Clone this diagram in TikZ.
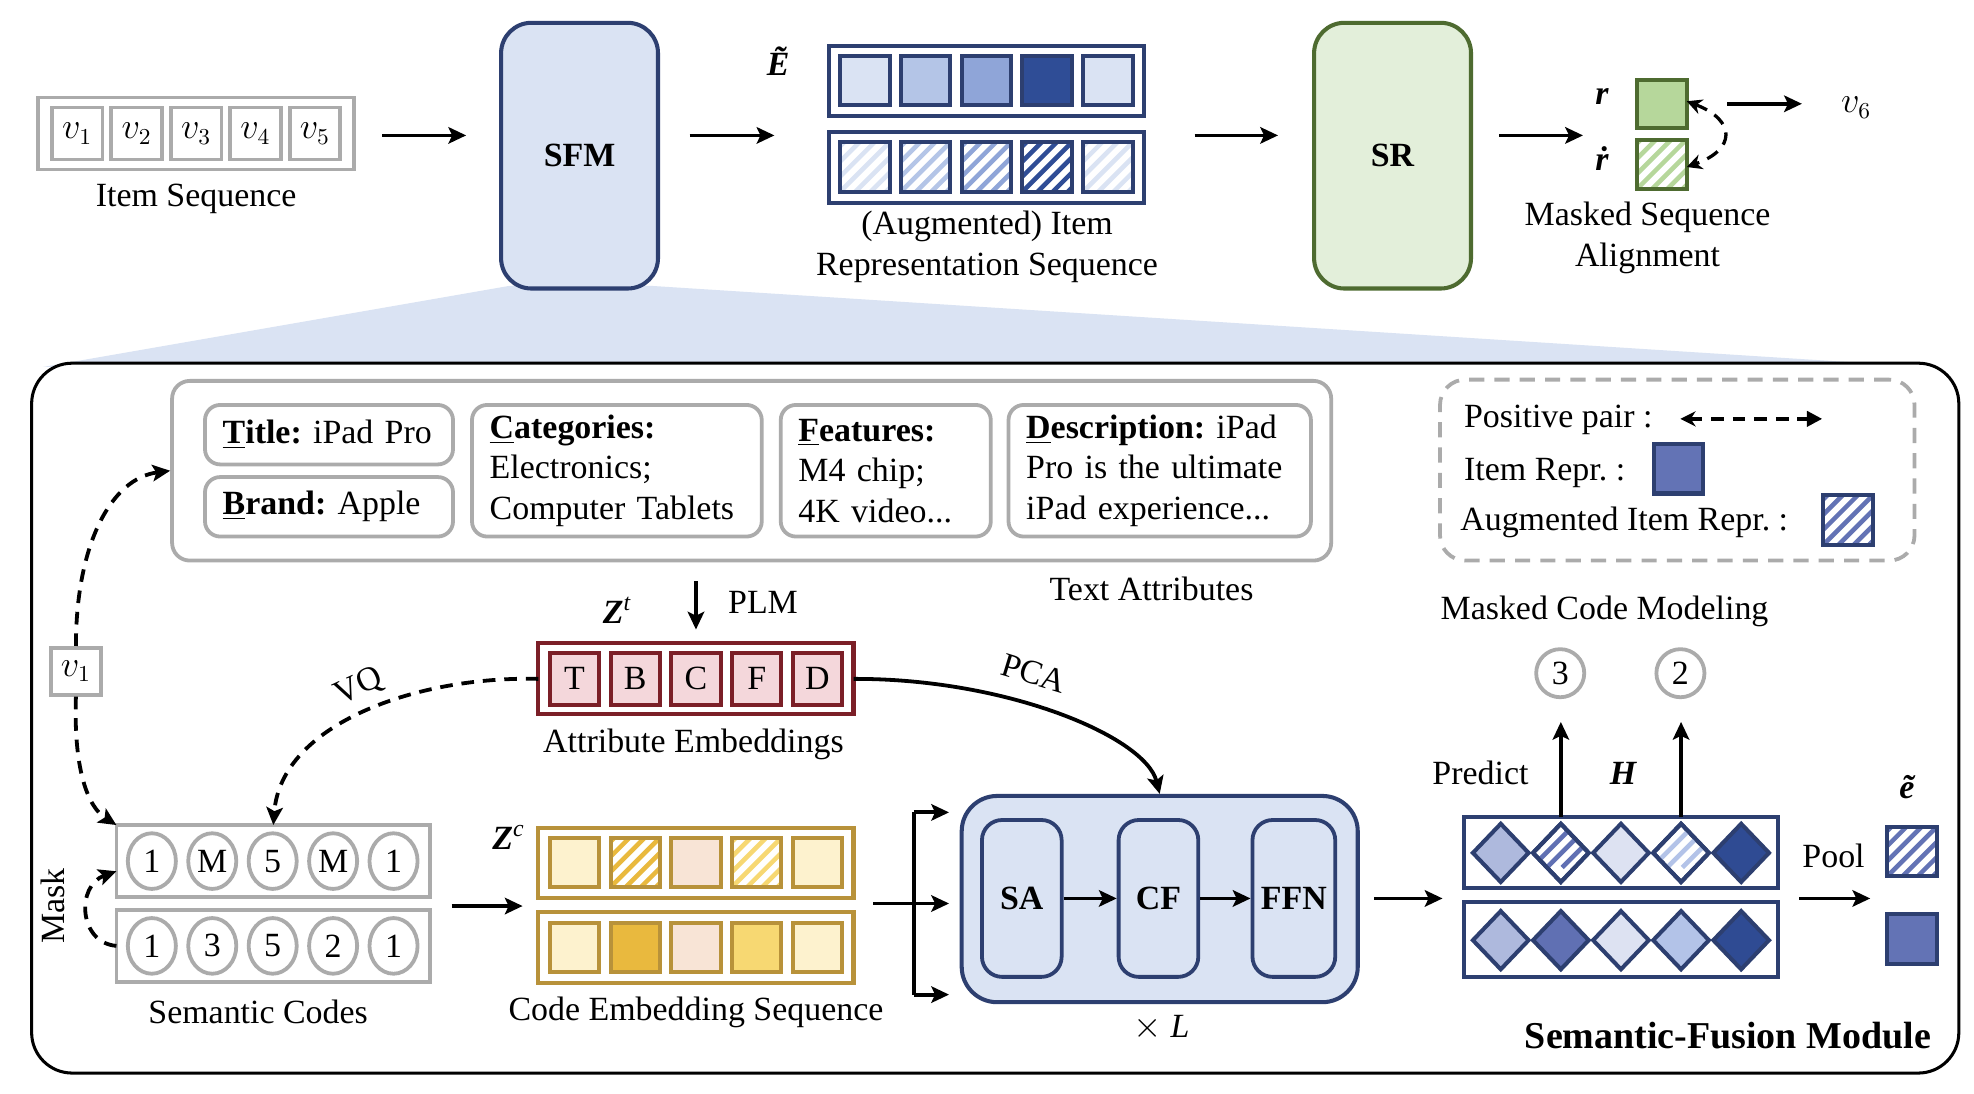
\documentclass[tikz,border=0pt]{standalone}
\usepackage{fontspec}
\setmainfont{Liberation Serif}
\usetikzlibrary{arrows.meta,shapes.geometric,calc}
\definecolor{navy}{HTML}{2D3F70}
\definecolor{lblue}{HTML}{DAE3F3}
\definecolor{grayc}{HTML}{ABABAB}
\definecolor{eA}{HTML}{DAE3F3}
\definecolor{eB}{HTML}{B4C5E7}
\definecolor{eC}{HTML}{8FA5D8}
\definecolor{eD}{HTML}{2F4D96}
\definecolor{aered}{HTML}{7B1F27}
\definecolor{aefill}{HTML}{F4D7DB}
\definecolor{gold}{HTML}{B8923A}
\definecolor{cA}{HTML}{FDF2CE}
\definecolor{cB}{HTML}{E9B93E}
\definecolor{cC}{HTML}{F8E4D6}
\definecolor{cD}{HTML}{F7D872}
\definecolor{srfill}{HTML}{E3EFDA}
\definecolor{srdraw}{HTML}{4E6B30}
\definecolor{rfill}{HTML}{B6D79B}
\definecolor{hA}{HTML}{AEB9DD}
\definecolor{hB}{HTML}{6070B3}
\definecolor{hC}{HTML}{DDE2F2}
\definecolor{hD}{HTML}{B3C3E8}
\definecolor{hE}{HTML}{2F4B93}
\definecolor{irep}{HTML}{6373B5}

\newcommand\hatchrect[3]{%
  \begin{scope}
    \clip (#1.south west) rectangle (#1.north east);
    \foreach \k in {-30,-24,...,30}{\draw[#2, line width=1.8pt] ([xshift=\k pt]#1.south west) -- ++(40pt,40pt);}
  \end{scope}
  \draw[#3, line width=1.6pt] (#1.south west) rectangle (#1.north east);
}
\newcommand\hatchdiam[3]{%
  \begin{scope}
    \clip (#1.north) -- (#1.east) -- (#1.south) -- (#1.west) -- cycle;
    \foreach \k in {-30,-24,...,30}{\draw[#2, line width=1.8pt] ([xshift=\k pt]#1.south west) -- ++(40pt,40pt);}
  \end{scope}
  \draw[#3, line width=1.6pt] (#1.north) -- (#1.east) -- (#1.south) -- (#1.west) -- cycle;
}

\begin{document}
\frenchspacing
\begin{tikzpicture}[x=0.5pt,y=-0.5pt,
  font=\fontsize{13.4}{16}\selectfont,
  arr/.style={line width=1.5pt, -{Stealth[length=7pt,width=6.5pt,inset=1.5pt]}},
  dsh/.style={line width=1.3pt, dash pattern=on 5pt off 3.5pt},
  seq/.style={minimum width=124.5pt, minimum height=28pt, inner sep=0, outer sep=0, line width=1.6pt, fill=white},
  cell/.style={minimum width=19.5pt, minimum height=19.5pt, inner sep=0, outer sep=0, line width=1.6pt},
  dia/.style={diamond, minimum width=22pt, minimum height=23pt, inner sep=0, outer sep=0, line width=1.6pt, draw=navy},
  code/.style={ellipse, draw=grayc, line width=1.5pt, minimum width=19pt, minimum height=22pt, inner sep=0},
  attr/.style={draw=grayc, line width=1.5pt, rounded corners=6pt, align=left, inner xsep=7pt, inner ysep=0pt, minimum height=52pt},
  big/.style={rounded corners=12pt, line width=1.6pt, minimum width=62pt, minimum height=105pt},
  sub/.style={draw=navy, fill=lblue, rounded corners=8pt, line width=1.5pt, minimum width=31.5pt, minimum height=62pt, font=\fontsize{13.4}{16}\selectfont\bfseries}
]
\useasboundingbox (0,0) rectangle (1560,864.5);
\fill[white] (0,0) rectangle (1560,864.5);

% ---------- top row ----------
\fill[lblue] (402,226) -- (516,226) -- (1522,290) -- (34,290) -- cycle;

\node[draw=grayc, line width=1.5pt, minimum width=125pt, minimum height=28.5pt, inner sep=0, outer sep=0] (iseq) at (155,105.5) {};
\foreach \n in {1,...,5}
  \node[draw=grayc, line width=1.5pt, minimum width=20pt, minimum height=20.5pt, inner sep=0] (iv\n) at ({61+47*(\n-1)},105.5) {$v_{\n}$};
\node (iseqlab) at (155,157) {Item Sequence};

\node[big, draw=navy, fill=lblue, font=\fontsize{13.4}{16}\selectfont\bfseries] (sfm) at (458,123) {SFM};
\draw[arr, shorten <=11pt, shorten >=13pt] ([yshift=-0.75pt]iseq.east) -- ([yshift=-0.75pt]iseq.east -| sfm.west);

\node[font=\fontsize{13.4}{16}\selectfont\bfseries\itshape] (Et) at (615,48) {\~{E}};
\node[seq, draw=navy] (etop) at (779.5,64) {};
\foreach \c [count=\i from 0] in {eA,eB,eC,eD,eA}
  \node[cell, draw=navy, fill=\c] (et\i) at ({683.5+48*\i},63.5) {};
\node[seq, draw=navy] (ebot) at (779.5,132.5) {};
\foreach \c [count=\i from 0] in {eA,eB,eC,eD,eA}{
  \node[cell, draw=navy, fill=white] (eb\i) at ({683.5+48*\i},132) {};
  \hatchrect{eb\i}{\c}{navy}}
\node[align=center] (elab) at (780,195) {(Augmented) Item\\Representation Sequence};

\coordinate (a2s) at (545,107); \coordinate (a2e) at (612,107);
\draw[arr] (a2s) -- (a2e);

\node[big, draw=srdraw, fill=srfill, font=\fontsize{13.4}{16}\selectfont\bfseries] (sr) at (1100.5,123) {SR};
\coordinate (a3s) at (944,107); \coordinate (a3e) at (1010,107);
\draw[arr] (a3s) -- (a3e);
\coordinate (a4s) at (1185,107); \coordinate (a4e) at (1251,107);
\draw[arr] (a4s) -- (a4e);

\node[font=\fontsize{13.4}{16}\selectfont\bfseries\itshape] (rl) at (1266,76) {r};
\node[font=\fontsize{13.4}{16}\selectfont\bfseries\itshape] (rdl) at (1266,125) {\.{r}};
\node[cell, draw=srdraw, fill=rfill, minimum height=19pt] (rbox) at (1313.5,82) {};
\node[cell, draw=srdraw, fill=white, minimum height=19pt] (rdbox) at (1313.5,130) {};
\hatchrect{rdbox}{rfill}{srdraw}
\draw[dsh, {Stealth[length=6pt,width=6pt]}-{Stealth[length=6pt,width=6pt]}] ([yshift=1pt]rbox.east) .. controls (1372,95) and (1372,118) .. ([yshift=-1pt]rdbox.east);
\node (v6) at (1467,85) {$v_6$};
\draw[arr, shorten <=16pt, shorten >=12pt] (rbox.east) -- (rbox.east -| v6.west);
\node[align=center] (msa) at (1302,188) {Masked Sequence\\Alignment};

% ---------- bottom module ----------
\node[draw=black, line width=1.2pt, rounded corners=16pt, fill=white, minimum width=761.5pt, minimum height=280.5pt] (sfmod) at (786.5,567.5) {};

\node[draw=grayc, line width=1.5pt, rounded corners=7pt, minimum width=458pt, minimum height=71pt] (ta) at (594,372) {};
\node[attr, minimum width=98pt, minimum height=23.5pt, text width=84pt] (title) at (260,343.5) {\textbf{\underline{T}itle:} iPad Pro};
\node[attr, minimum width=98pt, minimum height=23.5pt, text width=84pt] (brand) at (260,400.5) {\textbf{\underline{B}rand:} Apple};
\node[attr, text width=100.5pt] (cat) at (487.5,372) {\textbf{\underline{C}ategories:}\\Electronics;\\Computer Tablets};
\node[attr, text width=69pt] (feat) at (700,372) {\textbf{\underline{F}eatures:}\\M4 chip;\\4K video...};
\node[attr, text width=105.5pt] (desc) at (916.5,372) {\textbf{\underline{D}escription:} iPad\\Pro is the ultimate\\iPad experience...};
\node (talab) at (910,465) {Text Attributes};

% legend
\node[draw=grayc, dash pattern=on 6pt off 4pt, line width=1.5pt, rounded corners=10pt, minimum width=187.5pt, minimum height=71.5pt] (legend) at (1325.5,371.5) {};
\node[anchor=west] (lpp) at (1150,332) {Positive pair :};
\coordinate (pp1) at (1328,331); \coordinate (pp2) at (1440,331);
\draw[dsh, {Stealth[length=6pt,width=6pt]}-{Triangle[length=6pt,width=6pt]}] (pp1) -- (pp2);
\node[anchor=west] (lir) at (1150,374) {Item Repr. :};
\node[cell, draw=navy, fill=irep] (lirbox) at (1326.5,370.5) {};
\node[anchor=west] (lair) at (1147,413) {Augmented Item Repr. :};
\node[cell, draw=navy, fill=white] (lairbox) at (1460.5,411) {};
\hatchrect{lairbox}{irep}{navy}

% attribute embeddings
\node[seq, draw=aered] (ae) at (550,536.5) {};
\foreach \t [count=\i from 0] in {T,B,C,F,D}
  \node[cell, draw=aered, fill=aefill, minimum height=20.5pt] (ae\i) at ({454+48*\i},536.5) {\t};
\node (aelab) at (548,588) {Attribute Embeddings};
\draw[arr, shorten <=7.5pt, shorten >=5.5pt] (ae.north |- ta.south) -- (ae.north);
\node (plm) at (603,476) {PLM};
\node (zt) at (488,482) {\textbf{\textit{Z}}\textsuperscript{\textit{t}}};

% v1
\node[draw=grayc, line width=1.5pt, minimum width=20pt, minimum height=18.5pt, inner sep=0] (v1) at (60,530.5) {$v_1$};

% semantic codes
\node[draw=grayc, line width=1.5pt, minimum width=124pt, minimum height=28.5pt, inner sep=0, outer sep=0] (sc1) at (216,680.5) {};
\foreach \t [count=\i from 0] in {1,M,5,M,1}
  \node[code] (s1\i) at ({120+47.75*\i},680.5) {\t};
\node[draw=grayc, line width=1.5pt, minimum width=124pt, minimum height=28.5pt, inner sep=0, outer sep=0] (sc2) at (216,747.5) {};
\foreach \t [count=\i from 0] in {1,3,5,2,1}
  \node[code] (s2\i) at ({120+47.75*\i},747.5) {\t};
\node (sclab) at (204,800) {Semantic Codes};
\node[rotate=90] (mask) at (42,716) {Mask};

\draw[dsh, arr] (v1.north) .. controls (60,430) and (88,378) .. (ta.west);
\draw[dsh, arr] (v1.south) .. controls (58,610) and (70,638) .. (sc1.north west);
\draw[dsh, arr] (sc2.west) .. controls (62,745) and (60,700) .. ([yshift=-4pt]sc1.west);
\draw[dsh, arr] (ae.west) .. controls (330,534) and (222,572) .. (sc1.north);
\node[rotate=25] (vq) at (284,543) {VQ};

% code embeddings
\node (zc) at (402,662) {\textbf{\textit{Z}}\textsuperscript{\textit{c}}};
\node[seq, draw=gold] (ce1) at (550,682) {};
\foreach \c [count=\i from 0] in {cA,white,cC,white,cA}
  \node[cell, draw=gold, fill=\c] (c1\i) at ({454+48*\i},681.5) {};
\hatchrect{c11}{cB}{gold}
\hatchrect{c13}{cD}{gold}
\node[seq, draw=gold] (ce2) at (550,749) {};
\foreach \c [count=\i from 0] in {cA,cB,cC,cD,cA}
  \node[cell, draw=gold, fill=\c] (c2\i) at ({454+48*\i},749) {};
\node (celab) at (550,800) {Code Embedding Sequence};
\coordinate (a5s) at (357,716); \coordinate (a5e) at (413,716);
\draw[arr] (a5s) -- (a5e);

% transformer block
\node[draw=navy, fill=lblue, line width=1.6pt, rounded corners=14pt, minimum width=156.5pt, minimum height=81.5pt] (tf) at (916.5,710.5) {};
\node[sub] (sa) at (807.5,710) {SA};
\node[sub] (cf) at (915.5,710) {CF};
\node[sub] (ffn) at (1022.5,710) {FFN};
\draw[arr] (sa.east) -- (cf.west);
\draw[arr] (cf.east) -- (ffn.west);
\node (xl) at (918,812) {$\times$ \textit{L}};

\coordinate (b0) at (690,714);
\coordinate (bt) at (722,642); \coordinate (bm) at (722,714); \coordinate (bb) at (722,786);
\coordinate (bte) at (750,642); \coordinate (bme) at (750,714); \coordinate (bbe) at (750,786);
\draw[line width=1.5pt] (bt) -- (bb);
\draw[arr] (b0) -- (bme);
\draw[arr] (bt) -- (bte);
\draw[arr] (bb) -- (bbe);

\draw[line width=1.5pt, -{Stealth[length=7pt,width=6.5pt,inset=1.5pt]}] (ae.east) .. controls (795,536) and (905,582) .. (tf.north);
\node[rotate=-17] (pca) at (817,532) {PCA};

% H sequences
\coordinate (a6s) at (1086,710); \coordinate (a6e) at (1140,710);
\draw[arr] (a6s) -- (a6e);
\node[seq, draw=navy, minimum width=124pt] (h1) at (1281,674) {};
\foreach \c [count=\i from 0] in {hA,white,hC,white,hE}
  \node[dia, fill=\c] (d1\i) at ({1186+47.5*\i},674) {};
\hatchdiam{d11}{hB}{navy}
\hatchdiam{d13}{hD}{navy}
\node[seq, draw=navy, minimum width=124pt, minimum height=29.5pt] (h2) at (1281,742.5) {};
\foreach \c [count=\i from 0] in {hA,hB,hC,hD,hE}
  \node[dia, fill=\c] (d2\i) at ({1186+47.5*\i},743) {};

\node[circle, draw=grayc, line width=1.5pt, minimum size=19pt, inner sep=0] (m3) at (1233,532) {3};
\node[circle, draw=grayc, line width=1.5pt, minimum size=19pt, inner sep=0] (m2) at (1328,532) {2};
\draw[arr, shorten >=9pt] (d11.center |- h1.north) -- (d11.center |- m3.south);
\draw[arr, shorten >=9pt] (d13.center |- h1.north) -- (d13.center |- m2.south);
\node (mcm) at (1268,483) {Masked Code Modeling};
\node (pred) at (1170,611) {Predict};
\node (hl) at (1283,611) {\textbf{\textit{H}}};

\node (pool) at (1449,676) {Pool};
\coordinate (a7s) at (1422,710); \coordinate (a7e) at (1478,710);
\draw[arr] (a7s) -- (a7e);
\node[font=\fontsize{13.4}{16}\selectfont\bfseries\itshape] (et) at (1507,622) {\~{e}};
\node[cell, draw=navy, fill=white] (eaug) at (1511,673) {};
\hatchrect{eaug}{irep}{navy}
\node[cell, draw=navy, fill=irep] (eitem) at (1511,742) {};

\node[anchor=east, font=\fontsize{15}{18}\selectfont\bfseries] (sfmlab) at (1533,818) {Semantic-Fusion Module};
\end{tikzpicture}
\end{document}
